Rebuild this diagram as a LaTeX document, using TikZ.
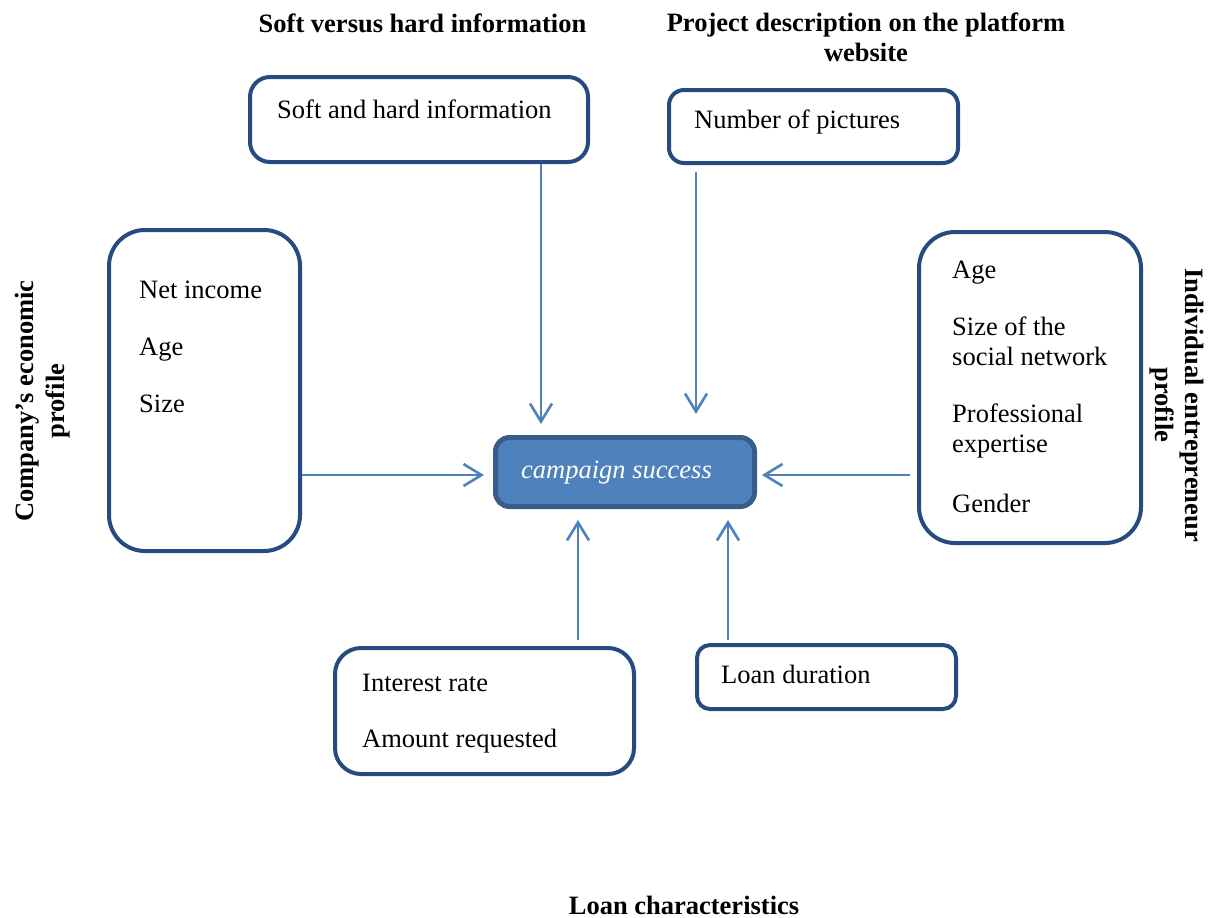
\documentclass[tikz,border=0pt]{standalone}
\usepackage{fontspec}
\setmainfont{Liberation Serif}
\usetikzlibrary{arrows.meta}
\definecolor{boxblue}{RGB}{37,75,128}
\definecolor{arrblue}{RGB}{79,129,189}
\definecolor{cfill}{RGB}{79,129,189}
\definecolor{cborder}{RGB}{56,93,138}
\tikzset{
  card/.style={draw=boxblue, line width=4pt, fill=white, inner sep=0pt},
  item/.style={anchor=base west, inner sep=0pt, font=\fontsize{26.5}{30}\selectfont},
  title/.style={anchor=base, inner sep=0pt, font=\fontsize{26.5}{30}\selectfont\bfseries},
  arr/.style={draw=arrblue, line width=2.6pt, -{Straight Barb[length=18pt,width=22pt,line width=2.6pt]}},
}
\begin{document}
\begin{tikzpicture}[x=1pt,y=-1pt]
\useasboundingbox (0,0) rectangle (1211,918);
% boxes
\node[card, rounded corners=20pt, minimum width=338pt, minimum height=85pt] (soft) at (419,119.5) {};
\node[card, rounded corners=15pt, minimum width=289pt, minimum height=73pt] (pics) at (813.5,126.5) {};
\node[card, rounded corners=36pt, minimum width=191pt, minimum height=321pt] (left) at (204.5,390.5) {};
\node[card, rounded corners=36pt, minimum width=222pt, minimum height=311pt] (right) at (1030,387.5) {};
\node[card, rounded corners=26pt, minimum width=299pt, minimum height=126pt] (bl) at (484.5,711) {};
\node[card, rounded corners=13pt, minimum width=259pt, minimum height=64pt] (br) at (826.5,677) {};
\node[draw=cborder, fill=cfill, line width=5pt, rounded corners=14pt, minimum width=259pt, minimum height=69pt, inner sep=0pt] (center) at (625,472) {};
\node[anchor=base west, inner sep=0pt, text=white, font=\fontsize{26.5}{30}\selectfont\itshape] (ctext) at (521,478) {campaign success};
% box texts
\node[item] (t1) at (277,118) {Soft and hard information};
\node[item] (t2) at (694,128) {Number of pictures};
\node[item] (t3) at (139,298) {Net income};
\node[item] (t4) at (139,355) {Age};
\node[item] (t5) at (139,412) {Size};
\node[item] (t6) at (952,278) {Age};
\node[item] (t7) at (952,335) {Size of the};
\node[item] (t8) at (952,365) {social network};
\node[item] (t9) at (952,422) {Professional};
\node[item] (t10) at (952,452) {expertise};
\node[item] (t11) at (952,512) {Gender};
\node[item] (t12) at (362,691) {Interest rate};
\node[item] (t13) at (362,747) {Amount requested};
\node[item] (t14) at (721,683) {Loan duration};
% titles
\node[title] (h1) at (422.5,32) {Soft versus hard information};
\node[title] (h2) at (866,31) {Project description on the platform};
\node[title] (h3) at (866,61) {website};
\node[title, rotate=90] (h4) at (34,401) {Company’s economic};
\node[title, rotate=90] (h5) at (64,401) {profile};
\node[title, rotate=-90] (h6) at (1185,405) {Individual entrepreneur};
\node[title, rotate=-90] (h7) at (1155,405) {profile};
\node[title] (h8) at (684,914) {Loan characteristics};
% arrow x/y positions
\coordinate (xa) at (541,0);
\coordinate (xb) at (696,0);
\coordinate (xc) at (578,0);
\coordinate (xd) at (728,0);
\coordinate (ym) at (0,475);
% connectors
\draw[arr, shorten >=11pt] (soft.south -| xa) -- (center.north -| xa);
\draw[arr, shorten <=7pt, shorten >=21pt] (pics.south -| xb) -- (center.north -| xb);
\draw[arr, shorten >=9pt] (left.east |- ym) -- (center.west |- ym);
\draw[arr, shorten <=7pt, shorten >=5pt] (right.west |- ym) -- (center.east |- ym);
\draw[arr, shorten <=6pt, shorten >=11pt] (bl.north -| xc) -- (center.south -| xc);
\draw[arr, shorten <=3pt, shorten >=11pt] (br.north -| xd) -- (center.south -| xd);
\end{tikzpicture}
\end{document}
